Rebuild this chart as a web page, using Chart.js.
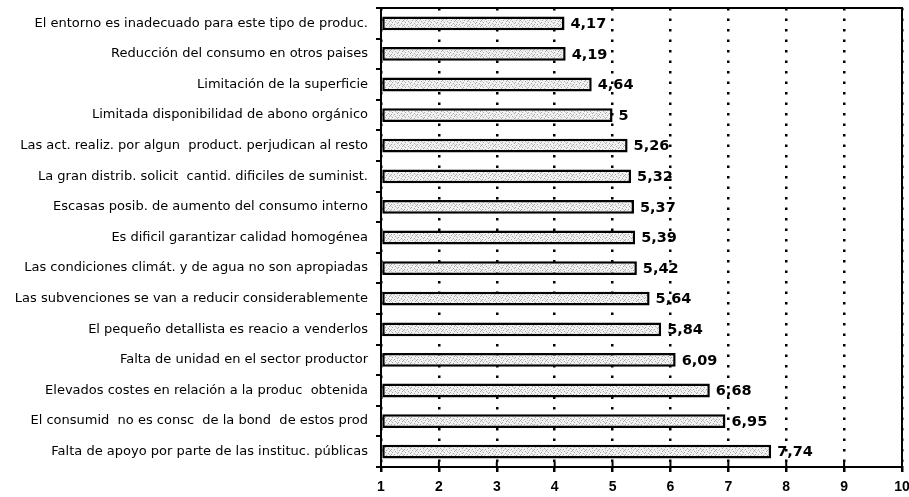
<!DOCTYPE html>
<html><head><meta charset="utf-8">
<script src="https://cdn.jsdelivr.net/npm/chart.js@4/dist/chart.umd.min.js"></script>
<style>html,body{margin:0;padding:0;background:#fff}#wrap{width:909px;height:497px;position:relative}</style>
</head><body><div id="wrap"><canvas id="c"></canvas></div>
<script>
const categories = [
  "El entorno es inadecuado para este tipo de produc.",
  "Reducción del consumo en otros paises",
  "Limitación de la superficie",
  "Limitada disponibilidad de abono orgánico",
  "Las act. realiz. por algun  product. perjudican al resto",
  "La gran distrib. solicit  cantid. dificiles de suminist.",
  "Escasas posib. de aumento del consumo interno",
  "Es dificil garantizar calidad homogénea",
  "Las condiciones climát. y de agua no son apropiadas",
  "Las subvenciones se van a reducir considerablemente",
  "El pequeño detallista es reacio a venderlos",
  "Falta de unidad en el sector productor",
  "Elevados costes en relación a la produc  obtenida",
  "El consumid  no es consc  de la bond  de estos prod",
  "Falta de apoyo por parte de las instituc. públicas"
];
const values = [4.17, 4.19, 4.64, 5, 5.26, 5.32, 5.37, 5.39, 5.42, 5.64, 5.84, 6.09, 6.68, 6.95, 7.74];
const xTickValues = [1, 2, 3, 4, 5, 6, 7, 8, 9, 10];

function makePattern() {
  const c = document.createElement('canvas');
  c.width = 13; c.height = 5;
  const g = c.getContext('2d');
  g.fillStyle = '#f2f2f2';
  g.fillRect(0, 0, 13, 5);
  g.fillStyle = '#a8a8a8';
  [[0,0],[5,1],[9,0],[2,2],[11,3],[7,3],[4,4],[12,1],[1,4],[8,2]].forEach(p => g.fillRect(p[0], p[1], 1, 1));
  g.fillStyle = '#cfcfcf';
  [[3,0],[6,2],[10,4],[1,1],[12,4],[7,0]].forEach(p => g.fillRect(p[0], p[1], 1, 1));
  return g.createPattern(c, 'repeat');
}

const overlay = {
  id: 'overlay',
  afterDatasetsDraw(chart) {
    const { ctx, chartArea: a, scales: { x } } = chart;
    ctx.save();
    ctx.strokeStyle = '#000';
    ctx.lineWidth = 2;
    ctx.beginPath();
    ctx.moveTo(a.left, a.top);
    ctx.lineTo(a.right, a.top);
    ctx.lineTo(a.right, a.bottom);
    ctx.stroke();
    xTickValues.forEach(t => {
      const px = x.getPixelForValue(t);
      ctx.beginPath();
      ctx.moveTo(px, a.bottom);
      ctx.lineTo(px, a.bottom - 5);
      ctx.stroke();
    });
    const meta = chart.getDatasetMeta(0);
    ctx.font = 'bold 14.5px "DejaVu Sans", sans-serif';
    ctx.fillStyle = '#000';
    ctx.textBaseline = 'middle';
    ctx.textAlign = 'left';
    meta.data.forEach((bar, i) => {
      ctx.fillText(String(values[i]).replace('.', ','), bar.x + 6, bar.y + 1);
    });
    ctx.restore();
  }
};

new Chart(document.getElementById('c'), {
  type: 'bar',
  data: {
    labels: categories,
    datasets: [{
      data: values,
      base: 1,
      backgroundColor: makePattern(),
      borderColor: '#000',
      borderWidth: 2.5,
      borderSkipped: false,
      barPercentage: 0.45,
      categoryPercentage: 1
    }]
  },
  options: {
    indexAxis: 'y',
    responsive: true,
    maintainAspectRatio: false,
    animation: false,
    layout: { padding: { left: 0, right: 7, top: 8, bottom: 0 } },
    plugins: { legend: { display: false }, tooltip: { enabled: false } },
    scales: {
      x: {
        type: 'linear',
        min: 1, max: 10,
        afterBuildTicks: s => { s.ticks = xTickValues.map(v => ({ value: v })); },
        afterFit: s => { s.paddingLeft = 0; s.paddingRight = 0; s.height = 30; },
        ticks: { color: '#000', padding: 7, font: { family: '"Liberation Sans", Arial, sans-serif', size: 14, weight: 'bold' } },
        grid: { color: '#000', lineWidth: 2.5, tickLength: 5, drawOnChartArea: true },
        border: { display: true, color: '#000', width: 2, dash: [2.5, 8] }
      },
      y: {
        type: 'category',
        afterFit: s => { s.width = 381; s.paddingTop = 0; s.paddingBottom = 0; },
        ticks: { color: '#000', padding: 8, font: { family: '"DejaVu Sans", sans-serif', size: 13 } },
        grid: { drawOnChartArea: false, offset: true, color: '#000', lineWidth: 2, tickLength: 5 },
        border: { display: true, color: '#000', width: 2 }
      }
    }
  },
  plugins: [overlay]
});
</script>
</body></html>
